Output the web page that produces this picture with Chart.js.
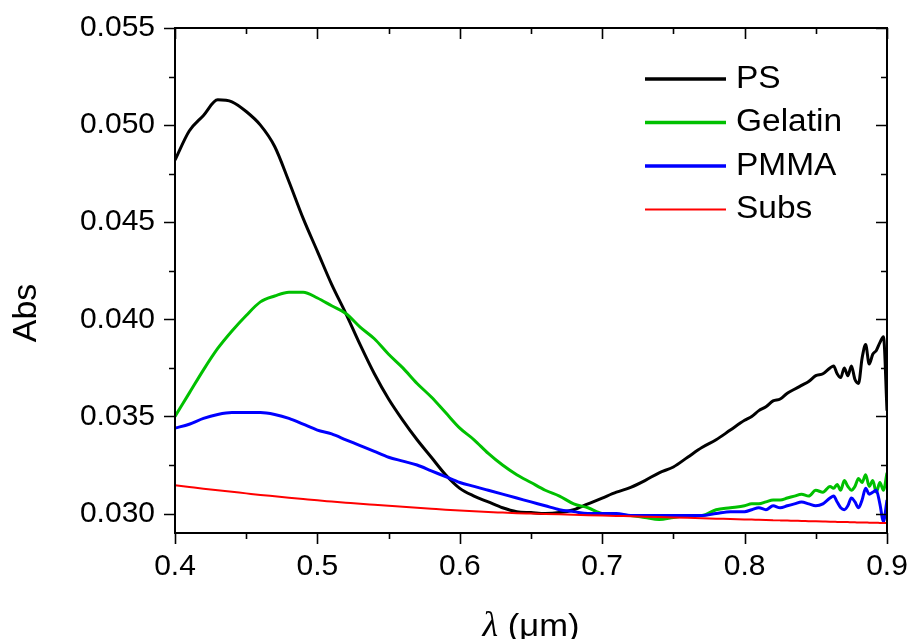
<!DOCTYPE html>
<html>
<head>
<meta charset="utf-8">
<title>Abs</title>
<script src="https://cdn.jsdelivr.net/npm/chart.js@4.4.1/dist/chart.umd.min.js"></script>
<style>
  html, body { margin: 0; padding: 0; background: #fff; }
  #wrap { width: 910px; height: 639px; }
</style>
</head>
<body>
<div id="wrap"><canvas id="abs-chart"></canvas></div>
<script>
// wavelength grid (um); finer steps where the spectra get noisy
var wavelength = [
  0.40, 0.41, 0.42, 0.43, 0.44, 0.45, 0.46, 0.47, 0.48, 0.49,
  0.50, 0.51, 0.52, 0.53, 0.54, 0.55, 0.56, 0.57, 0.58, 0.59,
  0.60, 0.61, 0.62, 0.63, 0.64, 0.65, 0.66, 0.67, 0.68, 0.69,
  0.70, 0.71, 0.72, 0.73, 0.74, 0.75, 0.76, 0.77, 0.78, 0.79,
  0.80, 0.805, 0.81, 0.815, 0.82, 0.825, 0.83, 0.835, 0.84, 0.845,
  0.85, 0.855, 0.86, 0.8625, 0.865, 0.8675, 0.87, 0.8725, 0.875, 0.8775,
  0.88, 0.8825, 0.885, 0.8875, 0.89, 0.8925, 0.895, 0.8975, 0.90
];

var absPS = [
  0.0482, 0.0497, 0.0505, 0.0513, 0.0512, 0.0507, 0.0500, 0.0489, 0.0471, 0.0452,
  0.0435, 0.0418, 0.0403, 0.0387, 0.0372, 0.0359, 0.0348, 0.0338, 0.0329, 0.0320,
  0.0313, 0.0309, 0.0306, 0.0303, 0.0301, 0.03005, 0.0300, 0.03005, 0.0302, 0.0305,
  0.0308, 0.0311, 0.03135, 0.0317, 0.0321, 0.0324, 0.0329, 0.0334, 0.0338, 0.0343,
  0.0348, 0.0350, 0.0353, 0.0355, 0.0358, 0.0359, 0.0362, 0.0364, 0.0366, 0.0368,
  0.0371, 0.0372, 0.0375, 0.0376, 0.0372, 0.0370, 0.0375, 0.0371, 0.0376, 0.0369,
  0.0367, 0.0380, 0.0387, 0.0377, 0.0382, 0.0384, 0.0388, 0.0391, 0.0353
];

var absGelatin = [
  0.0350, 0.0362, 0.0374, 0.0385, 0.0394, 0.0402, 0.0409, 0.0412, 0.0414, 0.0414,
  0.0411, 0.0407, 0.0403, 0.0396, 0.0390, 0.0382, 0.0375, 0.0367, 0.0360, 0.0352,
  0.0344, 0.0338, 0.0331, 0.0325, 0.0320, 0.0316, 0.0312, 0.0309, 0.0305, 0.0303,
  0.0300, 0.02995, 0.0299, 0.0298, 0.0297, 0.0298, 0.0299, 0.0299, 0.0302, 0.0303,
  0.0304, 0.0305, 0.0305, 0.0306, 0.0307, 0.0307, 0.0308, 0.0309, 0.0310, 0.0309,
  0.0312, 0.0311, 0.0314, 0.0313, 0.0315, 0.0312, 0.0317, 0.0314, 0.0312, 0.0314,
  0.0318, 0.0316, 0.0320, 0.0314, 0.0317, 0.0311, 0.0316, 0.0312, 0.0321
];

var absPMMA = [
  0.0344, 0.0346, 0.0349, 0.0351, 0.0352, 0.0352, 0.0352, 0.0351, 0.0349, 0.0346,
  0.0343, 0.0341, 0.0338, 0.0335, 0.0332, 0.0329, 0.0327, 0.0325, 0.0322, 0.0319,
  0.0316, 0.0314, 0.0312, 0.0310, 0.0308, 0.0306, 0.0304, 0.0302, 0.0301, 0.0300,
  0.0300, 0.0300, 0.0299, 0.0299, 0.0299, 0.0299, 0.0299, 0.0299, 0.0300, 0.0301,
  0.0301, 0.0302, 0.0303, 0.0302, 0.0304, 0.0303, 0.0304, 0.0305, 0.0306, 0.0305,
  0.0304, 0.0305, 0.0308, 0.0309, 0.0306, 0.0303, 0.0302, 0.0304, 0.0308, 0.0306,
  0.0303, 0.0307, 0.0313, 0.0310, 0.0311, 0.0312, 0.0305, 0.0296, 0.0307
];

var absSubs = [
  0.03146, 0.03137, 0.03128, 0.03120, 0.03112, 0.03104, 0.03096, 0.03089, 0.03082, 0.03075,
  0.03068, 0.03062, 0.03056, 0.03050, 0.03045, 0.03040, 0.03035, 0.03030, 0.03025, 0.03020,
  0.03016, 0.03012, 0.03008, 0.03005, 0.03002, 0.03000, 0.02998, 0.02996, 0.02994, 0.02992,
  0.02990, 0.02988, 0.02986, 0.02984, 0.02982, 0.02980, 0.02978, 0.02976, 0.02974, 0.02972,
  0.02970, 0.02969, 0.02968, 0.02967, 0.02966, 0.02965, 0.02964, 0.02963, 0.02962, 0.02961,
  0.02960, 0.02959, 0.02958, 0.02958, 0.02957, 0.02957, 0.02956, 0.02956, 0.02955, 0.02955,
  0.02954, 0.02954, 0.02954, 0.02953, 0.02953, 0.02953, 0.02952, 0.02952, 0.02952
];

var xMin = 0.4, xMax = 0.9, xStep = 0.05;
var yMin = 0.029, yMax = 0.055, yStep = 0.0025;

function points(values) {
  return wavelength.map(function (w, i) { return { x: w, y: values[i] }; });
}

function isMultiple(v, step) {
  var r = v / step;
  return Math.abs(r - Math.round(r)) < 1e-6;
}

var FONT = "'Liberation Sans', Arial, sans-serif";
var STRETCH = 1.08;

// frame, inward/outward ticks, legend and axis titles
var framePlugin = {
  id: 'frame',
  afterDraw: function (chart) {
    var ctx = chart.ctx;
    var a = chart.chartArea;
    var xs = chart.scales.x, ys = chart.scales.y;
    ctx.save();
    ctx.strokeStyle = '#000';
    ctx.lineWidth = 2;
    ctx.strokeRect(a.left, a.top, a.right - a.left, a.bottom - a.top);

    ctx.lineWidth = 1.6;
    ctx.beginPath();
    xs.ticks.forEach(function (t) {
      var px = Math.round(xs.getPixelForValue(t.value)) + 0.5;
      var len = isMultiple(t.value, 0.1) ? 11 : 6;
      ctx.moveTo(px, a.bottom); ctx.lineTo(px, a.bottom + len);
      ctx.moveTo(px, a.top); ctx.lineTo(px, a.top + len);
    });
    ys.ticks.forEach(function (t) {
      var py = Math.round(ys.getPixelForValue(t.value)) + 0.5;
      var len = isMultiple(t.value, 0.005) ? 11 : 6;
      ctx.moveTo(a.left - len, py); ctx.lineTo(a.left, py);
      ctx.moveTo(a.right - len, py); ctx.lineTo(a.right, py);
    });
    ctx.stroke();

    // legend
    var lx = a.right - 242, ly = a.top + 51, row = 43.5;
    ctx.textBaseline = 'middle';
    ctx.textAlign = 'left';
    chart.data.datasets.forEach(function (ds, i) {
      var y = ly + i * row;
      ctx.strokeStyle = ds.borderColor;
      ctx.lineWidth = ds.legendWidth;
      ctx.beginPath();
      ctx.moveTo(lx, y); ctx.lineTo(lx + 81, y);
      ctx.stroke();
      ctx.save();
      ctx.translate(lx + 91, y);
      ctx.scale(STRETCH, 1);
      ctx.font = '31px ' + FONT;
      ctx.fillStyle = '#000';
      ctx.fillText(ds.label, 0, 0);
      ctx.restore();
    });

    // y title
    ctx.save();
    ctx.translate(27, 313);
    ctx.rotate(-Math.PI / 2);
    ctx.font = '34px ' + FONT;
    ctx.textAlign = 'center';
    ctx.textBaseline = 'middle';
    ctx.fillStyle = '#000';
    ctx.fillText('Abs', 0, 0);
    ctx.restore();

    // x title with italic lambda
    var lam = '\u03bb', rest = ' (\u03bcm)';
    var lamFont = 'italic 36px "Liberation Serif", "DejaVu Serif", serif';
    var restFont = '32px ' + FONT;
    ctx.font = lamFont;
    var w1 = ctx.measureText(lam).width;
    ctx.font = restFont;
    var w2 = ctx.measureText(rest).width * STRETCH;
    var cx = (a.left + a.right) / 2 - (w1 + w2) / 2;
    var by = 636;
    ctx.textBaseline = 'alphabetic';
    ctx.textAlign = 'left';
    ctx.fillStyle = '#000';
    ctx.font = lamFont;
    ctx.fillText(lam, cx, by);
    ctx.save();
    ctx.translate(cx + w1, by);
    ctx.scale(STRETCH, 1);
    ctx.font = restFont;
    ctx.fillText(rest, 0, 0);
    ctx.restore();
    ctx.restore();
  }
};

var datasets = [
  { label: 'PS', data: points(absPS), borderColor: '#000000', borderWidth: 3, legendWidth: 3.5, order: 3 },
  { label: 'Gelatin', data: points(absGelatin), borderColor: '#00c000', borderWidth: 3, legendWidth: 3.5, order: 2 },
  { label: 'PMMA', data: points(absPMMA), borderColor: '#0000ff', borderWidth: 3, legendWidth: 3.5, order: 1 },
  { label: 'Subs', data: points(absSubs), borderColor: '#ff0000', borderWidth: 2, legendWidth: 2, order: 0 }
];
datasets.forEach(function (ds) {
  ds.pointRadius = 0;
  ds.fill = false;
  ds.cubicInterpolationMode = 'monotone';
});

new Chart(document.getElementById('abs-chart'), {
  type: 'line',
  data: { datasets: datasets },
  options: {
    responsive: true,
    maintainAspectRatio: false,
    animation: false,
    layout: { padding: { top: 28, right: 23, left: 0, bottom: 0 } },
    plugins: {
      legend: { display: false },
      tooltip: { enabled: false }
    },
    scales: {
      x: {
        type: 'linear',
        min: xMin,
        max: xMax,
        grid: { display: false, drawTicks: false },
        border: { display: false },
        ticks: {
          stepSize: xStep,
          includeBounds: false,
          autoSkip: false,
          maxRotation: 0,
          padding: 16,
          color: '#000',
          font: { family: FONT, size: 30 },
          callback: function (v) { return isMultiple(v, 0.1) ? v.toFixed(1) : ''; }
        },
        afterFit: function (s) {
          s.height = 106;
          s.paddingLeft = 0;
          s.paddingRight = 0;
        }
      },
      y: {
        type: 'linear',
        min: yMin,
        max: yMax,
        grid: { display: false, drawTicks: false },
        border: { display: false },
        ticks: {
          stepSize: yStep,
          includeBounds: false,
          autoSkip: false,
          padding: 20,
          color: '#000',
          font: { family: FONT, size: 30 },
          callback: function (v) { return isMultiple(v, 0.005) ? v.toFixed(3) : ''; }
        },
        afterFit: function (s) {
          s.width = 175;
          s.paddingTop = 0;
          s.paddingBottom = 0;
        }
      }
    }
  },
  plugins: [framePlugin]
});
</script>
</body>
</html>
